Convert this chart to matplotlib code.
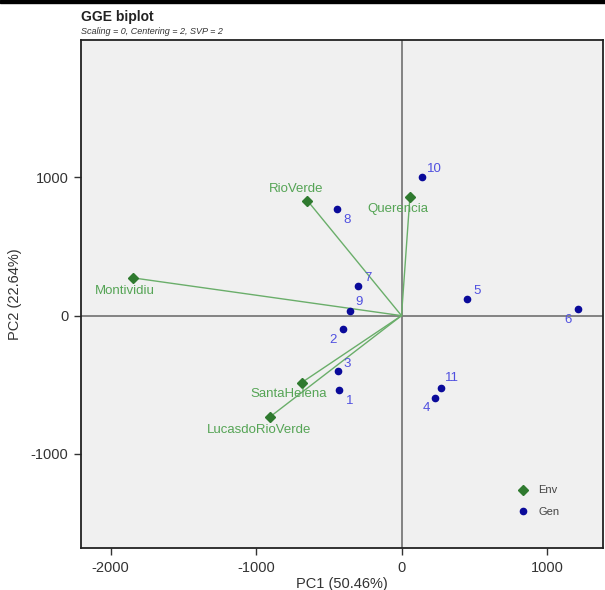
import matplotlib.pyplot as plt
from matplotlib.patches import Rectangle

plt.rcParams['font.family'] = ['Liberation Sans', 'DejaVu Sans']
plt.rcParams['axes.unicode_minus'] = False

# Environment scores (PC1, PC2)
env_names = ['RioVerde', 'Querencia', 'Montividiu', 'SantaHelena', 'LucasdoRioVerde']
env_pc1 = [-647, 58, -1845, -686, -904]
env_pc2 = [832, 860, 273, -484, -732]
# label offsets in pixels
env_off = [(-11, 12), (-12, -12), (-8, -13), (-13, -11), (-11, -13)]

# Genotype scores (PC1, PC2)
gen_names = ['1', '2', '3', '4', '5', '6', '7', '8', '9', '10', '11']
gen_pc1 = [-427, -400, -434, 232, 452, 1211, -301, -443, -354, 143, 274]
gen_pc2 = [-541, -98, -400, -597, 121, 51, 215, 769, 32, 1001, -521]
gen_off = [(10, -11), (-10, -11), (9, 7), (-9, -10), (10, 8), (-10, -11),
           (10, 8), (10, -11), (9, 9), (12, 8), (11, 10)]

env_col = '#2f7a2f'
env_txt = '#55a455'
line_col = '#6aae6a'
gen_col = '#0a0a9a'
gen_txt = '#5050e0'

fig = plt.figure(figsize=(6.05, 5.9), dpi=100)
ax = fig.add_axes([81 / 605, 42 / 590, 522 / 605, 508 / 590])
ax.set_facecolor('#f0f0f0')

# black band along the top edge
fig.patches.append(Rectangle((0, 1 - 3 / 590), 1, 3 / 590, transform=fig.transFigure,
                             color='black', zorder=10))

ax.axhline(0, color='#7a7a7a', lw=1.3, zorder=1)
ax.axvline(0, color='#7a7a7a', lw=1.3, zorder=1)

for x, y in zip(env_pc1, env_pc2):
    ax.plot([0, x], [0, y], color=line_col, lw=1.0, zorder=2)

ax.plot(env_pc1, env_pc2, 'D', color=env_col, ms=5.5, ls='none', zorder=3, label='Env')
ax.plot(gen_pc1, gen_pc2, 'o', color=gen_col, ms=4.5, ls='none', zorder=3, label='Gen')

for n, x, y, o in zip(env_names, env_pc1, env_pc2, env_off):
    ax.annotate(n, (x, y), xytext=o, textcoords='offset pixels', ha='center', va='center',
                color=env_txt, fontsize=9.5, zorder=4)
for n, x, y, o in zip(gen_names, gen_pc1, gen_pc2, gen_off):
    ax.annotate(n, (x, y), xytext=o, textcoords='offset pixels', ha='center', va='center',
                color=gen_txt, fontsize=9.5, zorder=4)

ax.set_xlim(-2203, 1385)
ax.set_ylim(-1680, 1993)
ax.set_xticks([-2000, -1000, 0, 1000])
ax.set_yticks([-1000, 0, 1000])
ax.tick_params(labelsize=10.5, colors='#333333', length=5, width=1, pad=4)
for s in ax.spines.values():
    s.set_color('#222222')
    s.set_linewidth(1.3)

ax.set_xlabel('PC1 (50.46%)', fontsize=10.5, color='#333333', labelpad=2)
ax.set_ylabel('PC2 (22.64%)', fontsize=10.5, color='#333333', labelpad=6)

leg = ax.legend(loc='center', bbox_to_anchor=(0.875, 0.0925), frameon=False,
                fontsize=8, handletextpad=0.8, labelspacing=1.0, handlelength=1.2,
                labelcolor='#444444')

fig.text(81 / 605, 1 - 17 / 590, 'GGE biplot', fontsize=10, fontweight='bold',
         ha='left', va='center', color='#222222')
fig.text(81 / 605, 1 - 31 / 590, 'Scaling = 0, Centering = 2, SVP = 2', fontsize=6.5,
         style='italic', ha='left', va='center', color='#333333')

fig.savefig('out.png', dpi=100)
